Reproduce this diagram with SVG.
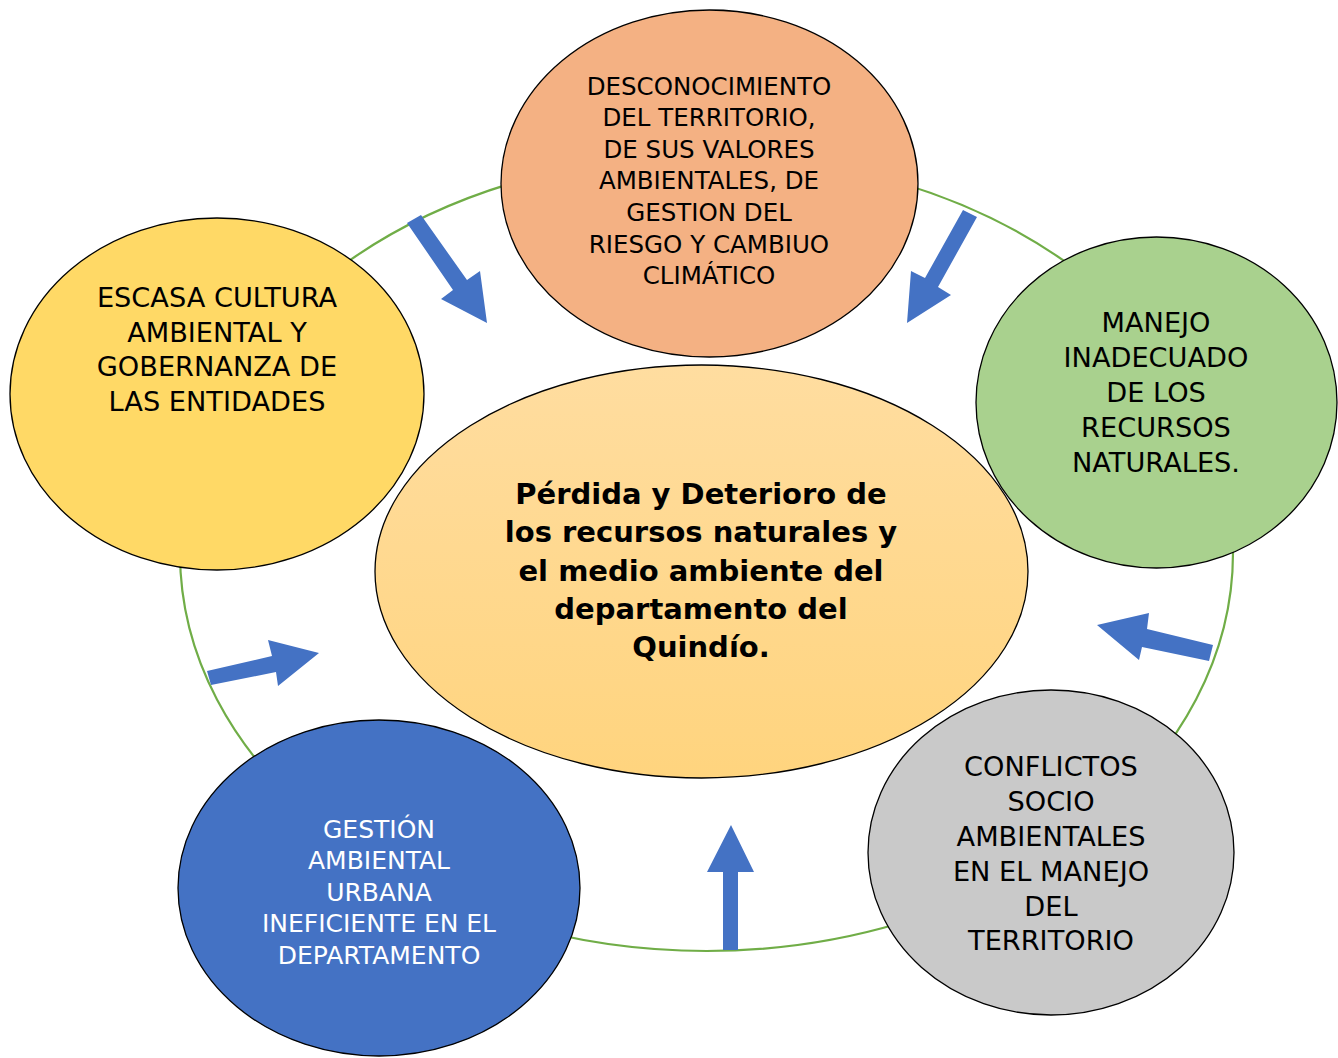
<svg xmlns="http://www.w3.org/2000/svg" width="1338" height="1058" viewBox="0 0 1338 1058">
<style>
.node{stroke:#000;stroke-width:1.3}
.t{font-family:"DejaVu Sans","Verdana",sans-serif;text-anchor:middle;fill:#000}
.s24{font-size:24.5px}
.s26{font-size:27.2px}
.b{font-family:"DejaVu Sans","Verdana",sans-serif;font-weight:bold;font-size:29px;text-anchor:middle;fill:#000}
.arrow{fill:#4472C4}
</style>
<defs>
<linearGradient id="cg" x1="0" y1="0" x2="0" y2="1">
<stop offset="0" stop-color="#FFDDA0"/>
<stop offset="1" stop-color="#FFD47E"/>
</linearGradient>
</defs>
<rect width="1338" height="1058" fill="#fff"/>
<g id="ring">
<ellipse cx="706.5" cy="553" rx="526.5" ry="398" fill="none" stroke="#70AD47" stroke-width="2.2"/>
</g>
<g id="node-top">
<ellipse class="node" cx="709.5" cy="183.5" rx="208.5" ry="173.5" fill="#F4B183"/>
<text class="t s24"><tspan x="709" y="95">DESCONOCIMIENTO</tspan><tspan x="709" y="126">DEL TERRITORIO,</tspan><tspan x="709" y="158">DE SUS VALORES</tspan><tspan x="709" y="189">AMBIENTALES, DE</tspan><tspan x="709" y="221">GESTION DEL</tspan><tspan x="709" y="253">RIESGO Y CAMBIUO</tspan><tspan x="709" y="284">CLIMÁTICO</tspan></text>
</g>
<g id="node-left">
<ellipse class="node" cx="217" cy="394" rx="207" ry="176" fill="#FFD966"/>
<text class="t s26"><tspan x="217" y="307">ESCASA CULTURA</tspan><tspan x="217" y="342">AMBIENTAL Y</tspan><tspan x="217" y="376">GOBERNANZA DE</tspan><tspan x="217" y="411">LAS ENTIDADES</tspan></text>
</g>
<g id="node-right">
<ellipse class="node" cx="1156.5" cy="402.5" rx="180.5" ry="165.5" fill="#A9D18E"/>
<text class="t s26"><tspan x="1156" y="332">MANEJO</tspan><tspan x="1156" y="367">INADECUADO</tspan><tspan x="1156" y="402">DE LOS</tspan><tspan x="1156" y="437">RECURSOS</tspan><tspan x="1156" y="472">NATURALES.</tspan></text>
</g>
<g id="node-center">
<ellipse class="node" cx="701.5" cy="571.5" rx="326.5" ry="206.5" fill="url(#cg)"/>
<text class="b"><tspan x="701" y="504">Pérdida y Deterioro de</tspan><tspan x="701" y="542">los recursos naturales y</tspan><tspan x="701" y="581">el medio ambiente del</tspan><tspan x="701" y="619">departamento del</tspan><tspan x="701" y="657">Quindío.</tspan></text>
</g>
<g id="node-bottom-left">
<ellipse class="node" cx="379" cy="888" rx="201" ry="168" fill="#4472C4"/>
<text class="t s24" style="fill:#fff;font-size:25px"><tspan x="379" y="838">GESTIÓN</tspan><tspan x="379" y="869">AMBIENTAL</tspan><tspan x="379" y="901">URBANA</tspan><tspan x="379" y="932">INEFICIENTE EN EL</tspan><tspan x="379" y="964">DEPARTAMENTO</tspan></text>
</g>
<g id="node-bottom-right">
<ellipse class="node" cx="1051" cy="852.5" rx="183" ry="162.5" fill="#C9C9C9"/>
<text class="t s26"><tspan x="1051" y="776">CONFLICTOS</tspan><tspan x="1051" y="811">SOCIO</tspan><tspan x="1051" y="846">AMBIENTALES</tspan><tspan x="1051" y="881">EN EL MANEJO</tspan><tspan x="1051" y="916">DEL</tspan><tspan x="1051" y="950">TERRITORIO</tspan></text>
</g>
<g id="connectors">
<polygon class="arrow" points="407,223 421,215 467,280 480,271 487,323 441,299 453,290"/>
<polygon class="arrow" points="963,210 977,217 938,287 951,295 907,323 911,271 925,278"/>
<polygon class="arrow" points="1213,645 1147,629 1149,613 1097,625 1139,660 1142,647 1209,661"/>
<polygon class="arrow" points="207,671 272,656 268,640 319,653 278,686 276,672 211,685"/>
<polygon class="arrow" points="731,825 754,872 738,872 738,950 723,950 723,872 707,872"/>
</g>
</svg>
